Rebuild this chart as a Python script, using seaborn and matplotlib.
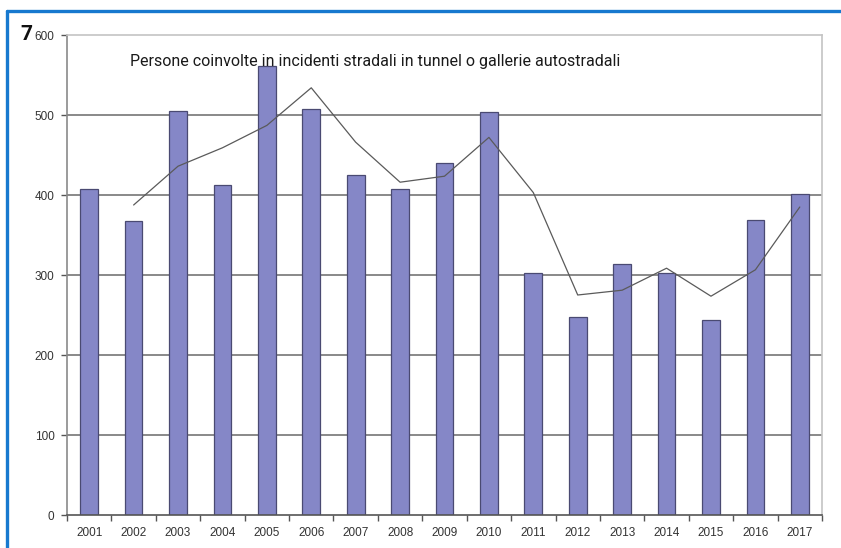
import numpy as np
import pandas as pd
import matplotlib
matplotlib.use("Agg")
import matplotlib.pyplot as plt
from matplotlib.lines import Line2D
from matplotlib.ticker import MultipleLocator
import seaborn as sns

# Persone coinvolte in incidenti stradali in tunnel o gallerie autostradali
years = ["2001", "2002", "2003", "2004", "2005", "2006", "2007", "2008", "2009",
         "2010", "2011", "2012", "2013", "2014", "2015", "2016", "2017"]
persons = [408, 367, 505, 413, 561, 507, 425, 407, 440,
           504, 302, 248, 314, 303, 244, 369, 401]
y_ticks = [0, 100, 200, 300, 400, 500, 600]
title = "Persone coinvolte in incidenti stradali in tunnel o gallerie autostradali"

df = pd.DataFrame({"anno": years, "persone": persons})
df["pos"] = np.arange(len(df))
# two-period moving average trendline
df["media"] = df["persone"].rolling(2).mean()

sns.set_style("white")
plt.rcParams["font.family"] = ["Liberation Sans", "DejaVu Sans"]

fig = plt.figure(figsize=(8.41, 5.48), dpi=100)
ax = fig.add_axes([67 / 841, 1 - 515 / 548, (822 - 67) / 841, (515 - 35) / 548])

for y in y_ticks[1:-1]:
    ax.axhline(y, color="#6a6a6a", lw=1.1, zorder=0)

sns.barplot(data=df, x="anno", y="persone", color="#8587C7", saturation=1,
            width=0.4, edgecolor="#4a4a72", linewidth=0.9, ax=ax, zorder=2)

trend = df.dropna(subset=["media"])
sns.lineplot(x=trend["pos"], y=trend["media"], color="#5a5a5a", lw=0.9,
             ax=ax, zorder=3)

ax.set_xlim(-0.5, len(years) - 0.5)
ax.set_ylim(0, 600)
ax.set_xlabel("")
ax.set_ylabel("")
ax.set_yticks(y_ticks)
ax.set_xticks(df["pos"])
ax.set_xticklabels(years)
ax.xaxis.set_minor_locator(MultipleLocator(1, offset=0.5))

ax.tick_params(axis="x", which="major", length=0, pad=9, labelsize=8.5,
               labelcolor="#333333")
ax.tick_params(axis="x", which="minor", length=4, width=1, color="#555555",
               direction="out", bottom=True)
ax.tick_params(axis="y", length=4, width=1, color="#555555", direction="out",
               left=True, pad=5, labelsize=8.5, labelcolor="#333333")

for side in ["top", "right"]:
    ax.spines[side].set_color("#c4c4c4")
    ax.spines[side].set_linewidth(1.2)
ax.spines["left"].set_color("#8a8a8a")
ax.spines["left"].set_linewidth(1.2)
ax.spines["bottom"].set_color("#555555")
ax.spines["bottom"].set_linewidth(1.2)

ax.text(63 / 755, 0.945, title, transform=ax.transAxes, fontsize=11.5,
        family=["Roboto", "Liberation Sans", "DejaVu Sans"],
        color="#1a1a1a", va="center", ha="left")

fig.text(20 / 841, 1 - 35 / 548, "7", fontsize=15, fontweight="bold",
         color="#111111", va="center", ha="left",
         family=["Roboto", "Liberation Sans", "DejaVu Sans"])

# blue frame (top and left edges)
blue = "#1779cf"
fig.add_artist(Line2D([7 / 841, 1], [1 - 11 / 548, 1 - 11 / 548],
                      transform=fig.transFigure, color=blue, lw=2.4))
fig.add_artist(Line2D([7 / 841, 7 / 841], [0, 1 - 11 / 548],
                      transform=fig.transFigure, color=blue, lw=2.4))

fig.savefig("out.png", dpi=100)
